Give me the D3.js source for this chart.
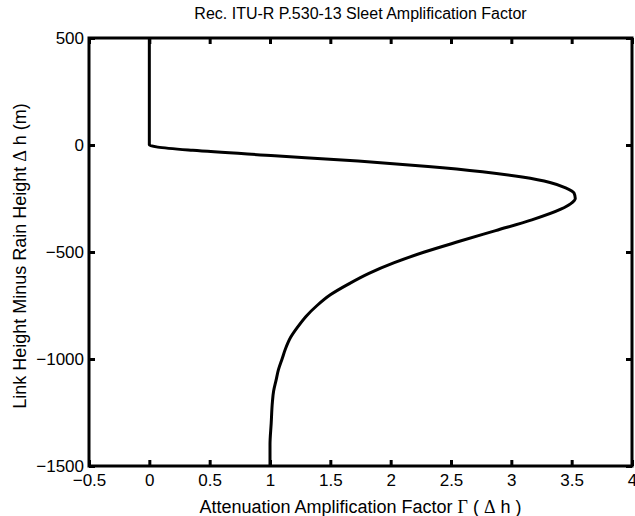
<!DOCTYPE html>
<meta charset="utf-8">
<style>
body { margin: 0; background: #fff; }
.axis text { font: 17px "Liberation Sans", Arial, sans-serif; fill: #000; }
.axis path, .axis line { stroke: #000; }
.title, .label { font-family: "Liberation Sans", Arial, sans-serif; fill: #000; }
.sym { font-family: "Liberation Serif", "DejaVu Serif", serif; }
.curve { fill: none; stroke: #000; stroke-width: 3px; stroke-linejoin: round; }
</style>
<body>
<script src="https://d3js.org/d3.v7.min.js"></script>
<script>

// height difference dh (m) and amplification factor
var dh    = [500, 0, -10, -25, -50, -75, -100, -125, -150, -175, -200, -225, -250, -275, -300,
             -350, -400, -450, -500, -550, -600, -650, -700, -750, -800, -850, -900, -950,
             -1000, -1050, -1100, -1150, -1200, -1300, -1400, -1500];
var gamma = [0, 0, 0.07, 0.36, 1.04, 1.73, 2.31, 2.76, 3.09, 3.32, 3.45, 3.52, 3.53, 3.49, 3.41,
             3.17, 2.87, 2.57, 2.28, 2.03, 1.82, 1.65, 1.50, 1.39, 1.30, 1.23, 1.17, 1.13,
             1.10, 1.07, 1.05, 1.03, 1.02, 1.01, 1.0, 1.0];

var xTicks = [-0.5, 0, 0.5, 1, 1.5, 2, 2.5, 3, 3.5, 4];
var yTicks = [500, 0, -500, -1000, -1500];

var margin = {top: 38, right: 3, bottom: 50, left: 89},
    width = 635 - margin.left - margin.right,
    height = 516 - margin.top - margin.bottom;

var x = d3.scaleLinear().domain([-0.5, 4]).range([0, width]);
var y = d3.scaleLinear().domain([-1500, 500]).range([height, 0]);

var svg = d3.select("body").append("svg")
    .attr("width", 635)
    .attr("height", 516)
  .append("g")
    .attr("transform", "translate(" + margin.left + "," + margin.top + ")");

// white plot box
svg.append("rect")
    .attr("width", width)
    .attr("height", height)
    .attr("fill", "#fff");

var data = dh.map(function(d, i) { return {h: d, g: gamma[i]}; });

var line = d3.line()
    .x(function(d) { return x(d.g); })
    .y(function(d) { return y(d.h); })
    .curve(d3.curveMonotoneY);

svg.append("path")
    .datum(data)
    .attr("class", "curve")
    .attr("d", line);

// axes, ticks pointing inward like matlab
svg.append("g")
    .attr("class", "axis")
    .attr("transform", "translate(0," + height + ")")
    .call(d3.axisBottom(x).tickValues(xTicks).tickSize(-6).tickPadding(8).tickFormat(d3.format("")))
    .call(function(g) { g.select(".domain").remove(); });

svg.append("g")
    .attr("class", "axis")
    .call(d3.axisTop(x).tickValues(xTicks).tickSize(-6).tickFormat(""))
    .call(function(g) { g.select(".domain").remove(); });

svg.append("g")
    .attr("class", "axis")
    .call(d3.axisLeft(y).tickValues(yTicks).tickSize(-6).tickPadding(5).tickFormat(d3.format("")))
    .call(function(g) { g.select(".domain").remove(); });

svg.append("g")
    .attr("class", "axis")
    .attr("transform", "translate(" + width + ",0)")
    .call(d3.axisRight(y).tickValues(yTicks).tickSize(-6).tickFormat(""))
    .call(function(g) { g.select(".domain").remove(); });

svg.selectAll(".axis line").attr("stroke-width", 3);

// frame
svg.append("rect")
    .attr("width", width)
    .attr("height", height)
    .attr("fill", "none")
    .attr("stroke", "#000")
    .attr("stroke-width", 3);

// title
svg.append("text")
    .attr("class", "title")
    .attr("x", width / 2)
    .attr("y", -19)
    .attr("text-anchor", "middle")
    .style("font-size", "16px")
    .text("Rec. ITU-R P.530-13 Sleet Amplification Factor");

// x label
var xl = svg.append("text")
    .attr("class", "label")
    .attr("x", width / 2)
    .attr("y", height + 47)
    .attr("text-anchor", "middle")
    .style("font-size", "18px");
xl.append("tspan").text("Attenuation Amplification Factor ");
xl.append("tspan").attr("class", "sym").text("\u0393");
xl.append("tspan").text(" ( ");
xl.append("tspan").attr("class", "sym").text("\u0394");
xl.append("tspan").text(" h )");

// y label
var yl = svg.append("text")
    .attr("class", "label")
    .attr("transform", "rotate(-90)")
    .attr("x", -height / 2 - 4)
    .attr("y", -63)
    .attr("text-anchor", "middle")
    .style("font-size", "18px");
yl.append("tspan").text("Link Height Minus Rain Height  ");
yl.append("tspan").attr("class", "sym").text("\u0394");
yl.append("tspan").text(" h (m)");

</script>
</body>
